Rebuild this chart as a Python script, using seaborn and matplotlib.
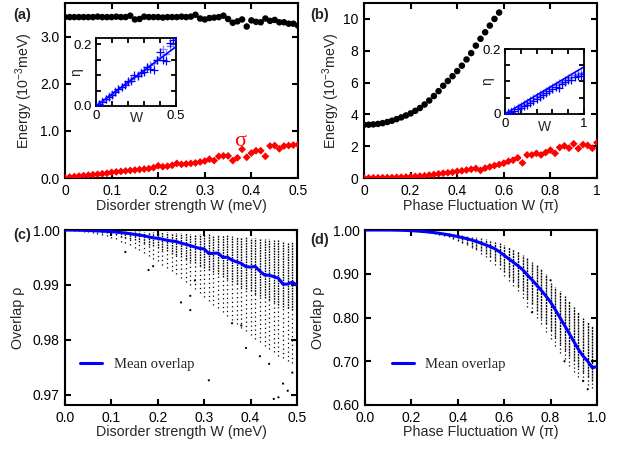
import numpy as np
import pandas as pd
import matplotlib
matplotlib.use("Agg")
import matplotlib.pyplot as plt
import seaborn as sns
from matplotlib.ticker import FixedLocator, FixedFormatter

# ---------------- data ----------------
# panel (a): disorder strength W (meV), step 0.01
w_a = [round(0.01 * i, 2) for i in range(51)]
energy_a = [3.42, 3.42, 3.42, 3.42, 3.42, 3.42, 3.42, 3.43, 3.42, 3.42,
            3.42, 3.43, 3.42, 3.42, 3.45, 3.37, 3.38, 3.43, 3.42, 3.42,
            3.42, 3.41, 3.42, 3.42, 3.42, 3.43, 3.42, 3.43, 3.47, 3.39,
            3.37, 3.40, 3.41, 3.42, 3.45, 3.38, 3.30, 3.33, 3.37, 3.22,
            3.35, 3.32, 3.31, 3.39, 3.34, 3.36, 3.31, 3.31, 3.28, 3.28, 3.24]
sigma_a = [0.00, 0.02, 0.03, 0.04, 0.05, 0.06, 0.07, 0.08, 0.09, 0.10,
           0.12, 0.13, 0.14, 0.15, 0.16, 0.17, 0.18, 0.19, 0.20, 0.22,
           0.26, 0.24, 0.25, 0.27, 0.31, 0.29, 0.30, 0.31, 0.32, 0.34,
           0.36, 0.40, 0.37, 0.46, 0.47, 0.47, 0.37, 0.43, 0.61, 0.44,
           0.53, 0.58, 0.58, 0.46, 0.68, 0.69, 0.62, 0.68, 0.69, 0.70, 0.71]

# inset (a)
w_ia = [round(0.02 * i, 2) for i in range(26)]
eta_dark_a = [0.000, 0.006, 0.014, 0.022, 0.030, 0.037, 0.045, 0.056, 0.060, 0.068,
              0.080, 0.082, 0.100, 0.098, 0.108, 0.110, 0.128, 0.120, 0.116, 0.150,
              0.175, 0.148, 0.145, 0.205, 0.215, 0.222]
eta_light_a = [0.000, 0.008, 0.016, 0.024, 0.032, 0.040, 0.048, 0.054, 0.063, 0.070,
               0.078, 0.086, 0.094, 0.100, 0.110, 0.117, 0.125, 0.134, 0.140, 0.150,
               0.160, 0.185, 0.170, 0.195, 0.205, 0.215]
fit_a_w = [0.0, 0.5]
fit_a_eta = [0.0, 0.192]

# panel (b): phase fluctuation W (pi), step 0.02
w_b = [round(0.02 * i, 2) for i in range(51)]
w_b_energy = [round(0.02 * i, 2) for i in range(30)]
energy_b = [3.34, 3.35, 3.37, 3.40, 3.45, 3.52, 3.60, 3.70, 3.81, 3.93,
            4.06, 4.22, 4.40, 4.62, 4.87, 5.15, 5.46, 5.80, 6.10, 6.40,
            6.72, 7.06, 7.45, 7.85, 8.32, 8.75, 9.16, 9.58, 10.00, 10.40]
sigma_b = [0.00, 0.00, 0.01, 0.01, 0.02, 0.02, 0.03, 0.04, 0.05, 0.06,
           0.08, 0.10, 0.12, 0.14, 0.18, 0.22, 0.26, 0.30, 0.33, 0.36,
           0.42, 0.45, 0.50, 0.55, 0.60, 0.48, 0.62, 0.70, 0.78, 0.85,
           0.93, 1.05, 1.12, 1.27, 0.95, 1.45, 1.45, 1.55, 1.45, 1.60,
           1.75, 1.55, 1.92, 2.02, 1.88, 2.15, 1.85, 2.10, 2.05, 1.87, 2.22]

# inset (b)
w_ib = [round(0.04 * i, 2) for i in range(26)]
eta_dark_b = [0.000, 0.003, 0.006, 0.010, 0.014, 0.019, 0.024, 0.029, 0.034, 0.040,
              0.046, 0.052, 0.058, 0.064, 0.070, 0.076, 0.082, 0.080, 0.092, 0.098,
              0.106, 0.104, 0.113, 0.118, 0.116, 0.122]
eta_light_b = [0.000, 0.005, 0.010, 0.015, 0.021, 0.026, 0.032, 0.037, 0.043, 0.048,
               0.054, 0.060, 0.065, 0.071, 0.077, 0.082, 0.088, 0.094, 0.099, 0.105,
               0.110, 0.115, 0.120, 0.124, 0.127, 0.130]
fit_b_w = [0.0, 1.0]
fit_b_eta = [0.0, 0.145]

# panel (c): overlap vs disorder strength, step 0.01
w_c = [round(0.01 * i, 2) for i in range(51)]
mean_c = [1.00000, 0.99999, 0.99998, 0.99996, 0.99994, 0.99991, 0.99988, 0.99984, 0.99980, 0.99975,
          0.99970, 0.99962, 0.99953, 0.99944, 0.99933, 0.99920, 0.99908, 0.99895, 0.99875, 0.99858,
          0.99848, 0.99832, 0.99812, 0.99800, 0.99790, 0.99760, 0.99740, 0.99715, 0.99690, 0.99665,
          0.99655, 0.99570, 0.99575, 0.99580, 0.99500, 0.99505, 0.99450, 0.99420, 0.99390, 0.99330,
          0.99325, 0.99335, 0.99250, 0.99180, 0.99175, 0.99150, 0.99120, 0.99010, 0.99015, 0.99050, 0.98990]
top_c = [1.0000, 1.0000, 1.0000, 1.0000, 1.0000, 1.0000, 1.0000, 1.0000, 1.0000, 1.0000,
         0.99995, 0.9999, 0.9999, 0.99985, 0.9998, 0.9998, 0.99975, 0.9997, 0.9997, 0.99965,
         0.9996, 0.9996, 0.99955, 0.9995, 0.9995, 0.99945, 0.9994, 0.99935, 0.9993, 0.9993,
         0.99925, 0.9992, 0.9991, 0.9991, 0.9990, 0.9990, 0.9989, 0.9988, 0.9988, 0.9987,
         0.9986, 0.9985, 0.9985, 0.9984, 0.9983, 0.9982, 0.9981, 0.9980, 0.9979, 0.9978, 0.9977]
dense_low_c = [1.0000, 0.99998, 0.99995, 0.9999, 0.99985, 0.9998, 0.9997, 0.9996, 0.9995, 0.9994,
               0.9992, 0.9990, 0.9988, 0.9986, 0.9984, 0.9981, 0.9979, 0.9976, 0.9973, 0.9970,
               0.9967, 0.9964, 0.9961, 0.9957, 0.9954, 0.9950, 0.9947, 0.9943, 0.9939, 0.9935,
               0.9931, 0.9927, 0.9923, 0.9919, 0.9914, 0.9910, 0.9906, 0.9901, 0.9897, 0.9892,
               0.9888, 0.9884, 0.9880, 0.9876, 0.9872, 0.9868, 0.9864, 0.9860, 0.9857, 0.9854, 0.9851]
sparse_low_c = [1.0000, 0.99998, 0.9999, 0.9998, 0.9997, 0.9996, 0.9995, 0.9993, 0.9991, 0.9989,
                0.9986, 0.9983, 0.9979, 0.9976, 0.9972, 0.9968, 0.9963, 0.9958, 0.9953, 0.9948,
                0.9943, 0.9937, 0.9931, 0.9925, 0.9919, 0.9912, 0.9906, 0.9899, 0.9892, 0.9885,
                0.9878, 0.9871, 0.9864, 0.9857, 0.9850, 0.9843, 0.9836, 0.9829, 0.9822, 0.9815,
                0.9808, 0.9801, 0.9795, 0.9789, 0.9783, 0.9777, 0.9771, 0.9766, 0.9761, 0.9757, 0.9753]
out_c_w = [0.13, 0.18, 0.19, 0.25, 0.27, 0.27, 0.28, 0.31, 0.36, 0.38,
           0.39, 0.42, 0.44, 0.45, 0.46, 0.47, 0.48, 0.49]
out_c_rho = [0.9960, 0.9927, 0.9934, 0.9868, 0.9880, 0.9854, 0.9908, 0.9726, 0.9830, 0.9826,
             0.9785, 0.9770, 0.9756, 0.9692, 0.9695, 0.9720, 0.9707, 0.9740]

# panel (d): overlap vs phase fluctuation, step 0.02
w_d = [round(0.02 * i, 2) for i in range(51)]
mean_d = [1.0000, 1.0000, 1.0000, 1.0000, 0.9999, 0.9999, 0.9998, 0.9996, 0.9993, 0.9989,
          0.9984, 0.9978, 0.9970, 0.9961, 0.9951, 0.9940, 0.9925, 0.9908, 0.9890, 0.9870,
          0.9850, 0.9825, 0.9800, 0.9770, 0.9738, 0.9700, 0.9660, 0.9620, 0.9570, 0.9500,
          0.9420, 0.9340, 0.9260, 0.9180, 0.9090, 0.8970, 0.8860, 0.8740, 0.8620, 0.8490,
          0.8350, 0.8180, 0.8000, 0.7820, 0.7640, 0.7450, 0.7270, 0.7120, 0.7000, 0.6850, 0.6880]
top_d = [1.0, 1.0, 1.0, 1.0, 1.0, 1.0, 1.0, 1.0, 0.9998, 0.9995,
         0.9990, 0.9987, 0.9982, 0.9976, 0.9968, 0.9960, 0.9950, 0.9940, 0.9930, 0.9915,
         0.9900, 0.9890, 0.9870, 0.9850, 0.9830, 0.9810, 0.9790, 0.9760, 0.9730, 0.9700,
         0.9660, 0.9610, 0.9560, 0.9510, 0.9440, 0.9360, 0.9280, 0.9200, 0.9100, 0.8990,
         0.8800, 0.8700, 0.8600, 0.8500, 0.8380, 0.8250, 0.8120, 0.8000, 0.7900, 0.7800, 0.7720]
low_d = [1.0, 1.0, 1.0, 1.0, 0.9999, 0.9998, 0.9996, 0.9993, 0.9990, 0.9985,
         0.9980, 0.9970, 0.9960, 0.9945, 0.9930, 0.9910, 0.9890, 0.9860, 0.9830, 0.9790,
         0.9750, 0.9710, 0.9670, 0.9620, 0.9570, 0.9510, 0.9450, 0.9380, 0.9300, 0.9210,
         0.9050, 0.8950, 0.8840, 0.8720, 0.8600, 0.8450, 0.8300, 0.8150, 0.8000, 0.7850,
         0.7700, 0.7550, 0.7400, 0.7250, 0.7120, 0.7000, 0.6880, 0.6760, 0.6650, 0.6550, 0.6480]
sparse_low_d = [1.0, 1.0, 1.0, 1.0, 0.9999, 0.9998, 0.9996, 0.9993, 0.9990, 0.9985,
                0.9980, 0.9970, 0.9960, 0.9945, 0.9930, 0.9910, 0.9890, 0.9860, 0.9830, 0.9790,
                0.9740, 0.9700, 0.9650, 0.9600, 0.9540, 0.9450, 0.9380, 0.9300, 0.9200, 0.9100,
                0.8950, 0.8830, 0.8720, 0.8600, 0.8450, 0.8250, 0.8120, 0.8000, 0.7850, 0.7680,
                0.7500, 0.7350, 0.7200, 0.7050, 0.6900, 0.6750, 0.6650, 0.6550, 0.6450, 0.6380, 0.6350]
out_d_w = [0.72, 0.80, 0.86, 0.94, 0.96]
out_d_rho = [0.812, 0.885, 0.700, 0.655, 0.636]

# ---------------- style ----------------
sns.set_style("ticks")
plt.rcParams["font.family"] = ["Liberation Sans", "DejaVu Sans"]
plt.rcParams["mathtext.fontset"] = "custom"
plt.rcParams["mathtext.rm"] = "Liberation Sans"
plt.rcParams["mathtext.it"] = "Liberation Sans:italic"
plt.rcParams["axes.linewidth"] = 1.5

BLUE = "#0000FF"
RED = "#FF0000"
SERIF = ["Liberation Serif", "DejaVu Serif"]
TICK = 10
LAB = 10.3

fig = plt.figure(figsize=(6.39, 4.49), dpi=100)
W, H = 639.0, 449.0


def add_ax(x0, y0, x1, y1):
    return fig.add_axes([x0 / W, 1 - y1 / H, (x1 - x0) / W, (y1 - y0) / H])


def style(ax, lw=1.5, size=TICK, length=4, pad=4):
    for s in ax.spines.values():
        s.set_visible(True)
        s.set_linewidth(lw)
        s.set_color("black")
    ax.tick_params(direction="in", top=True, right=True, length=length,
                   width=lw, labelsize=size, pad=pad, colors="black")


def set_ticks(axis, locs, labels):
    axis.set_major_locator(FixedLocator(locs))
    axis.set_major_formatter(FixedFormatter(labels))


ax_a = add_ax(65, 3, 298, 178)
ax_b = add_ax(364, 3, 597, 178)
ax_c = add_ax(65, 230, 297, 405)
ax_d = add_ax(365, 230, 597, 405)
in_a = add_ax(96, 37.5, 176, 106)
in_b = add_ax(505, 49, 584, 114)

# ---- (a)
sns.scatterplot(x=w_a, y=energy_a, ax=ax_a, color="black", s=22, marker="o",
                edgecolor="none", zorder=3)
sns.scatterplot(x=w_a, y=sigma_a, ax=ax_a, color=RED, s=16, marker="D",
                edgecolor="none", zorder=3)
ax_a.set_xlim(0, 0.5)
ax_a.set_ylim(0, 3.72)
set_ticks(ax_a.xaxis, [0, 0.1, 0.2, 0.3, 0.4, 0.5], ["0", "0.1", "0.2", "0.3", "0.4", "0.5"])
set_ticks(ax_a.yaxis, [0, 1, 2, 3], ["0.0", "1.0", "2.0", "3.0"])
style(ax_a)
ax_a.set_xlabel("Disorder strength W (meV)", fontsize=LAB)
ax_a.set_ylabel("Energy (10$^{-3}$meV)", fontsize=LAB)
ax_a.xaxis.set_label_coords(0.5, -0.12)
ax_a.yaxis.set_label_coords(-0.13, 0.5)
ax_a.text(0.3755, 0.78, "σ", color=RED, fontsize=16, family=SERIF,
          ha="center", va="center")

# ---- inset (a)
sns.scatterplot(x=w_ia, y=eta_light_a, ax=in_a, color="#8080ff", marker="+",
                s=26, linewidth=0.9, zorder=2)
sns.scatterplot(x=w_ia, y=eta_dark_a, ax=in_a, color=BLUE, marker="+",
                s=26, linewidth=0.9, zorder=3)
sns.lineplot(x=fit_a_w, y=fit_a_eta, ax=in_a, color=BLUE, linewidth=1.2, zorder=4)
in_a.set_xlim(0, 0.5)
in_a.set_ylim(0, 0.222)
set_ticks(in_a.xaxis, [0, 0.1, 0.2, 0.3, 0.4, 0.5], ["0", "", "", "", "", "0.5"])
set_ticks(in_a.yaxis, [0, 0.05, 0.1, 0.15, 0.2], ["0.0", "", "", "", "0.2"])
style(in_a, lw=1.3, size=9.5, length=3.5, pad=3)
in_a.set_xlabel("W", fontsize=10)
in_a.set_ylabel("η", fontsize=10)
in_a.xaxis.set_label_coords(0.5, -0.08)
in_a.yaxis.set_label_coords(-0.16, 0.5)

# ---- (b)
sns.scatterplot(x=w_b_energy, y=energy_b, ax=ax_b, color="black", s=22, marker="o",
                edgecolor="none", zorder=3)
sns.scatterplot(x=w_b, y=sigma_b, ax=ax_b, color=RED, s=16, marker="D",
                edgecolor="none", zorder=3)
ax_b.set_xlim(0, 1)
ax_b.set_ylim(0, 11.0)
set_ticks(ax_b.xaxis, [0, 0.2, 0.4, 0.6, 0.8, 1.0], ["0", "0.2", "0.4", "0.6", "0.8", "1"])
set_ticks(ax_b.yaxis, [0, 2, 4, 6, 8, 10], ["0", "2", "4", "6", "8", "10"])
style(ax_b)
ax_b.set_xlabel("Phase Fluctuation W (π)", fontsize=LAB)
ax_b.set_ylabel("Energy (10$^{-3}$meV)", fontsize=LAB)
ax_b.xaxis.set_label_coords(0.5, -0.12)
ax_b.yaxis.set_label_coords(-0.094, 0.5)

# ---- inset (b)
sns.scatterplot(x=w_ib, y=eta_light_b, ax=in_b, color="#8080ff", marker="+",
                s=26, linewidth=0.9, zorder=2)
sns.scatterplot(x=w_ib, y=eta_dark_b, ax=in_b, color=BLUE, marker="+",
                s=26, linewidth=0.9, zorder=3)
sns.lineplot(x=fit_b_w, y=fit_b_eta, ax=in_b, color=BLUE, linewidth=1.2, zorder=4)
in_b.set_xlim(0, 1)
in_b.set_ylim(0, 0.2)
set_ticks(in_b.xaxis, [0, 0.2, 0.4, 0.6, 0.8, 1.0], ["0", "", "", "", "", "1"])
set_ticks(in_b.yaxis, [0, 0.05, 0.1, 0.15, 0.2], ["0", "", "", "", "0.2"])
style(in_b, lw=1.3, size=9.5, length=3.5, pad=3)
in_b.set_xlabel("W", fontsize=10)
in_b.set_ylabel("η", fontsize=10)
in_b.xaxis.set_label_coords(0.5, -0.10)
in_b.yaxis.set_label_coords(-0.13, 0.5)

# ---- (c)
ax_c.vlines(w_c, dense_low_c, top_c, colors="black", linewidth=1.0,
            linestyles=(0, (1.2, 0.7)), zorder=2)
ax_c.vlines(w_c, sparse_low_c, dense_low_c, colors="black", linewidth=0.9,
            linestyles=(0, (1.0, 2.5)), zorder=2)
sns.scatterplot(x=out_c_w, y=out_c_rho, ax=ax_c, color="black", s=2.5,
                edgecolor="none", zorder=2)
sns.lineplot(x=w_c, y=mean_c, ax=ax_c, color=BLUE, linewidth=2.2,
             label="Mean overlap", zorder=4)
ax_c.set_xlim(0, 0.5)
ax_c.set_ylim(0.9681, 1.0)
set_ticks(ax_c.xaxis, [0, 0.1, 0.2, 0.3, 0.4, 0.5], ["0.0", "0.1", "0.2", "0.3", "0.4", "0.5"])
set_ticks(ax_c.yaxis, [0.97, 0.98, 0.99, 1.0], ["0.97", "0.98", "0.99", "1.00"])
style(ax_c)
ax_c.set_xlabel("Disorder strength W (meV)", fontsize=LAB)
ax_c.set_ylabel("Overlap ρ", fontsize=LAB)
ax_c.xaxis.set_label_coords(0.5, -0.114)
ax_c.yaxis.set_label_coords(-0.172, 0.5)
ax_c.legend(loc="center left", bbox_to_anchor=(0.065, 0.234), frameon=False,
            borderaxespad=0, borderpad=0, handlelength=1.5, handletextpad=0.8,
            prop={"family": SERIF, "size": 10.5})

# ---- (d)
ax_d.vlines(w_d, low_d, top_d, colors="black", linewidth=1.0,
            linestyles=(0, (1.5, 0.6)), zorder=2)
ax_d.vlines(w_d, sparse_low_d, low_d, colors="black", linewidth=0.9,
            linestyles=(0, (1.0, 2.0)), zorder=2)
sns.scatterplot(x=out_d_w, y=out_d_rho, ax=ax_d, color="black", s=2.5,
                edgecolor="none", zorder=2)
sns.lineplot(x=w_d, y=mean_d, ax=ax_d, color=BLUE, linewidth=2.2,
             label="Mean overlap", zorder=4)
ax_d.set_xlim(0, 1)
ax_d.set_ylim(0.6, 1.0)
set_ticks(ax_d.xaxis, [0, 0.2, 0.4, 0.6, 0.8, 1.0], ["0.0", "0.2", "0.4", "0.6", "0.8", "1.0"])
set_ticks(ax_d.yaxis, [0.6, 0.7, 0.8, 0.9, 1.0], ["0.60", "0.70", "0.80", "0.90", "1.00"])
style(ax_d)
ax_d.set_xlabel("Phase Fluctuation W (π)", fontsize=LAB)
ax_d.set_ylabel("Overlap ρ", fontsize=LAB)
ax_d.xaxis.set_label_coords(0.5, -0.114)
ax_d.yaxis.set_label_coords(-0.172, 0.5)
ax_d.legend(loc="center left", bbox_to_anchor=(0.115, 0.234), frameon=False,
            borderaxespad=0, borderpad=0, handlelength=1.5, handletextpad=0.8,
            prop={"family": SERIF, "size": 10.5})

# panel letters
fig.text(13 / W, 1 - 15 / H, "(a)", fontsize=10.5, fontweight="bold", va="center", ha="left")
fig.text(310 / W, 1 - 15 / H, "(b)", fontsize=10.5, fontweight="bold", va="center", ha="left")
fig.text(13 / W, 1 - 235 / H, "(c)", fontsize=10.5, fontweight="bold", va="center", ha="left")
fig.text(310 / W, 1 - 240 / H, "(d)", fontsize=10.5, fontweight="bold", va="center", ha="left")

fig.savefig("out.png", dpi=100)
